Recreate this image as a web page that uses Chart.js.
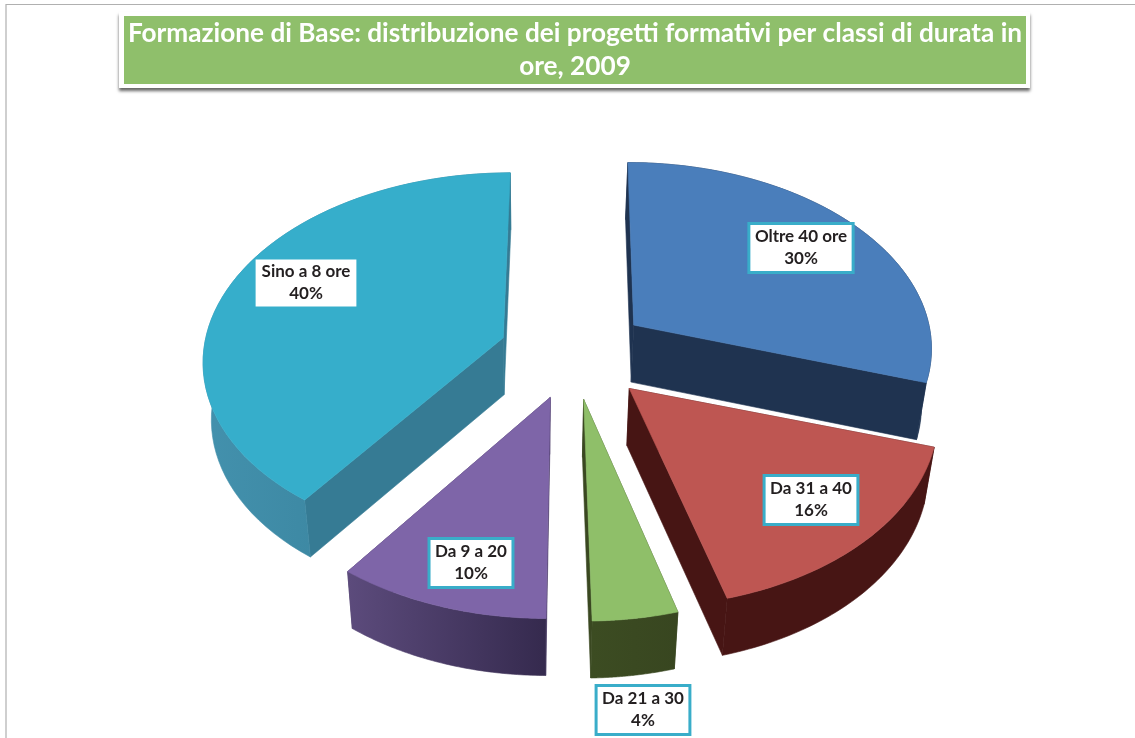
<!DOCTYPE html>
<html>
<head>
<meta charset="utf-8">
<script src="https://cdn.jsdelivr.net/npm/chart.js@4"></script>
<style>html,body{margin:0;padding:0;background:#fff}canvas{display:block}</style>
</head>
<body>
<canvas id="c" width="1135" height="738"></canvas>
<script>
const categories = ["Oltre 40 ore", "Da 31 a 40", "Da 21 a 30", "Da 9 a 20", "Sino a 8 ore"];
const shares = [30, 16, 4, 10, 40];
const titleLines = ["Formazione di Base: distribuzione dei progetti formativi per classi di durata in", "ore, 2009"];

// Styles and layout, kept apart from the data
const topColors = ["#4a7ebb", "#be5652", "#8fbf69", "#7e65a8", "#36aecb"];
const wallColors = ["#1f3350", "#471514", "#3a4821", "#4a3a66", "#367b94"];
const rimStops = [["#1f3350","#1f3350"],["#471514","#471514"],["#3c4c22","#384620"],["#5c4b7c","#352a4e"],["#4391ad","#337a93"]];
const labelCenters = [[801,248],[811,500],[643,710],[471,563],[306,283]];
const labelBorder = [true,true,true,true,false];
const paintOrder = [0,4,1,3,2];
const explodeBySlice = [75,79,75,75,75];
const leanDegrees = [0,-1,-1.2,0.2,0];
const pie3d = {cx:574, cy:352, R:300, tilt:0.62, persp:0.11, depth:57, shrink:0.975, shrinkAt:534};

function project(u, v, low) {
  const p = 1 / (1 - pie3d.persp * v / pie3d.R);
  let x = pie3d.cx + u * p;
  let y = pie3d.cy + v * pie3d.tilt * p;
  if (low) { x = pie3d.shrinkAt + (x - pie3d.shrinkAt) * pie3d.shrink; y += pie3d.depth; }
  return [x, y];
}
function poly(ctx, pts, fill) {
  ctx.beginPath();
  pts.forEach((q, i) => i ? ctx.lineTo(q[0], q[1]) : ctx.moveTo(q[0], q[1]));
  ctx.closePath();
  ctx.fillStyle = fill;
  ctx.fill();
  ctx.strokeStyle = fill;
  ctx.lineWidth = 0.6;
  ctx.stroke();
}
const pie3dPlugin = {
  id: 'pie3d',
  beforeDraw(chart) {
    const ctx = chart.ctx;
    ctx.save();
    ctx.fillStyle = '#fff';
    ctx.fillRect(0, 0, chart.width, chart.height);
    ctx.strokeStyle = '#b0b0b0';
    ctx.lineWidth = 1.2;
    ctx.beginPath();
    ctx.moveTo(6, 738); ctx.lineTo(6, 4.5); ctx.lineTo(1135, 4.5);
    ctx.stroke();
    ctx.shadowColor = 'rgba(0,0,0,0.6)';
    ctx.shadowBlur = 3; ctx.shadowOffsetX = 0; ctx.shadowOffsetY = 3;
    ctx.fillStyle = '#fff';
    ctx.fillRect(119, 12, 911, 76);
    ctx.shadowColor = 'transparent';
    ctx.fillStyle = '#8fbf6b';
    ctx.fillRect(124, 16, 902, 68);
    ctx.restore();
  },
  beforeDatasetDraw(chart) {
    const ctx = chart.ctx;
    const arcs = chart.getDatasetMeta(0).data;
    ctx.save();
    paintOrder.forEach(i => {
      const arc = arcs[i];
      const lean = leanDegrees[i] * Math.PI / 180;
      const a0 = arc.startAngle + lean, a1 = arc.endAngle + lean;
      const mid = (arc.startAngle + arc.endAngle) / 2;
      const ox = Math.cos(mid) * explodeBySlice[i], oy = Math.sin(mid) * explodeBySlice[i];
      const pt = (ang, r, low) => project(ox + Math.cos(ang) * r, oy + Math.sin(ang) * r, low);
      const rimTop = [], rimLow = [];
      const n = 60;
      for (let k = 0; k <= n; k++) {
        const ang = a0 + (a1 - a0) * k / n;
        rimTop.push(pt(ang, pie3d.R, false));
        rimLow.push(pt(ang, pie3d.R, true));
      }
      poly(ctx, [pt(a0,0,false), rimTop[0], rimLow[0], pt(a0,0,true)], wallColors[i]);
      poly(ctx, [pt(a1,0,false), rimTop[n], rimLow[n], pt(a1,0,true)], wallColors[i]);
      const xs = rimTop.map(q => q[0]);
      const g = ctx.createLinearGradient(Math.min(...xs), 0, Math.max(...xs), 0);
      g.addColorStop(0, rimStops[i][0]);
      g.addColorStop(1, rimStops[i][1]);
      poly(ctx, rimTop.concat(rimLow.slice().reverse()), g);
      poly(ctx, [pt(a0,0,false)].concat(rimTop), topColors[i]);
    });
    ctx.restore();
    return false;
  },
  afterDatasetsDraw(chart) {
    const ctx = chart.ctx;
    ctx.save();
    ctx.font = 'bold 17px Lato';
    ctx.textAlign = 'center';
    ctx.textBaseline = 'middle';
    categories.forEach((name, i) => {
      const [x, y] = labelCenters[i];
      const pct = shares[i] + '%';
      const w = Math.max(ctx.measureText(name).width, ctx.measureText(pct).width) + 12;
      const h = labelBorder[i] ? 49 : 47;
      ctx.fillStyle = '#fff';
      ctx.fillRect(x - w/2, y - h/2, w, h);
      if (labelBorder[i]) {
        ctx.strokeStyle = '#39adc9';
        ctx.lineWidth = 3;
        ctx.strokeRect(x - w/2, y - h/2, w, h);
      }
      ctx.fillStyle = '#231f20';
      ctx.fillText(name, x, y - 11);
      ctx.fillText(pct, x, y + 11);
    });
    ctx.restore();
  }
};

new Chart(document.getElementById('c'), {
  type: 'pie',
  plugins: [pie3dPlugin],
  data: {
    labels: categories,
    datasets: [{ data: shares, backgroundColor: topColors, borderWidth: 0 }]
  },
  options: {
    responsive: false,
    animation: false,
    rotation: 0,
    layout: { padding: { left: 15 } },
    plugins: {
      legend: { display: false },
      tooltip: { enabled: false },
      title: {
        display: true,
        text: titleLines,
        color: '#ffffff',
        font: { family: 'Lato', size: 26.2, weight: 'bold', lineHeight: 1.26 },
        padding: { top: 17, bottom: 0 }
      }
    }
  }
});
</script>
</body>
</html>
